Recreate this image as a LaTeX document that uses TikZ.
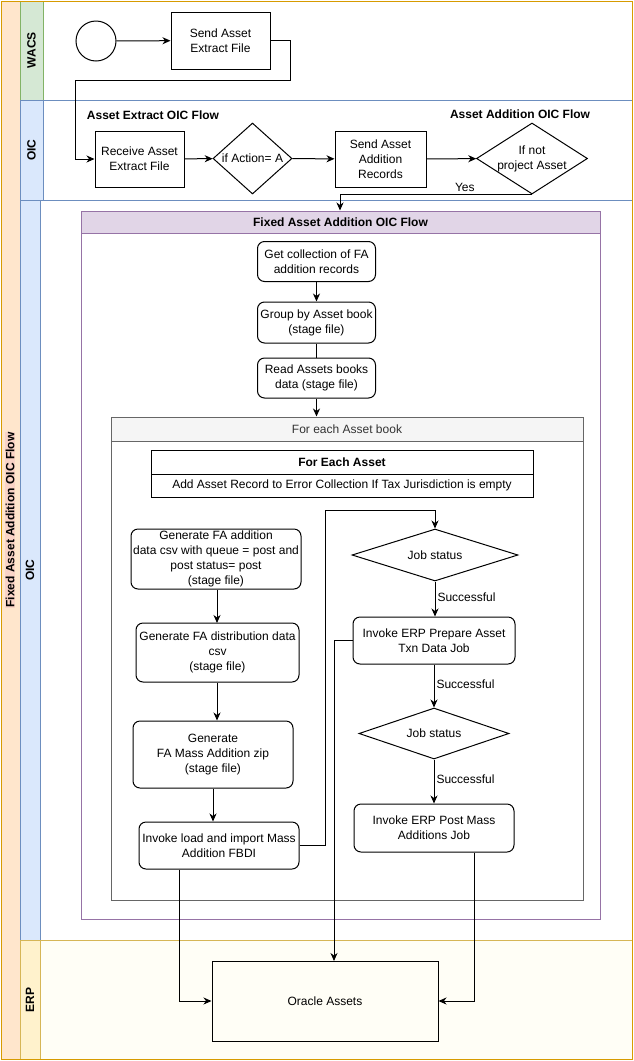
\documentclass[tikz,border=0pt]{standalone}
\usepackage{fontspec}
\setmainfont{Liberation Sans}
\usetikzlibrary{shapes.geometric,arrows.meta,calc}
\definecolor{poolfill}{HTML}{FFE6CC}
\definecolor{pooldraw}{HTML}{D79B00}
\definecolor{pinklbl}{HTML}{F9D3C6}
\definecolor{wacsfill}{HTML}{D5E8D4}
\definecolor{wacsdraw}{HTML}{82B366}
\definecolor{oicfill}{HTML}{DAE8FC}
\definecolor{oicdraw}{HTML}{6C8EBF}
\definecolor{erpfill}{HTML}{FFF2CC}
\definecolor{erpdraw}{HTML}{D6B656}
\definecolor{erpbody}{HTML}{FFFEF6}
\definecolor{purpfill}{HTML}{E1D5E7}
\definecolor{purpdraw}{HTML}{9673A6}
\definecolor{grayfill}{HTML}{F5F5F5}
\definecolor{graydraw}{HTML}{666666}
\definecolor{graytext}{HTML}{333333}
\begin{document}
\begin{tikzpicture}[x=1pt,y=-1pt,
  font=\fontsize{12}{14.8}\selectfont,
  box/.style={draw, line width=1pt, align=center, inner sep=0pt},
  rbox/.style={box, rounded corners=7pt},
  dia/.style={draw, diamond, line width=1pt, inner sep=0pt},
  arr/.style={line width=1pt, -{Stealth[length=8pt,width=7pt,inset=2.5pt]}},
  lanelbl/.style={rotate=90, font=\fontsize{12}{14.8}\selectfont\bfseries},
  ttl/.style={font=\fontsize{12}{14.8}\selectfont\bfseries},
  elbl/.style={inner sep=2pt}
]
\useasboundingbox (0,0) rectangle (634,1061);
% pool
\draw[draw=pooldraw, fill=poolfill, line width=1pt] (1,1) rectangle (632,1059);
\node[lanelbl, fill=pinklbl, inner sep=1pt] (pooltitle) at (10,520) {Fixed Asset Addition OIC Flow};
% lanes
\draw[draw=wacsdraw, fill=white, line width=1pt] (20,1) rectangle (632,100);
\draw[draw=wacsdraw, fill=wacsfill, line width=1pt] (20,1) rectangle (43,100);
\node[lanelbl] (lwacs) at (31.5,50) {WACS};
\draw[draw=oicdraw, fill=white, line width=1pt] (20,100) rectangle (632,200);
\draw[draw=oicdraw, fill=oicfill, line width=1pt] (20,100) rectangle (43,200);
\node[lanelbl] (loic1) at (31.5,150) {OIC};
\draw[draw=oicdraw, fill=white, line width=1pt] (20,200) rectangle (632,940);
\draw[draw=oicdraw, fill=oicfill, line width=1pt] (20,200) rectangle (40,940);
\node[lanelbl] (loic2) at (30,570) {OIC};
\draw[draw=erpdraw, fill=erpbody, line width=1pt] (20,940) rectangle (632,1059);
\draw[draw=erpdraw, fill=erpfill, line width=1pt] (20,940) rectangle (40,1059);
\node[lanelbl] (lerp) at (30,1000) {ERP};
\draw[draw=pooldraw, line width=1pt] (1,1) rectangle (632,1059);

% top lanes
\node[draw, circle, line width=1pt, minimum size=40pt, inner sep=0pt] (start) at (96,41) {};
\node[box, minimum width=99pt, minimum height=57pt] (send) at (220.5,40.5) {Send Asset\\Extract File};
\node[ttl] (t1) at (153,115) {Asset Extract OIC Flow};
\node[ttl] (t2) at (520,114) {Asset Addition OIC Flow};
\node[box, minimum width=89pt, minimum height=56pt] (recv) at (139.5,159) {Receive Asset\\Extract File};
\node[dia, minimum width=79pt, minimum height=71pt, label={center:if Action= A}] (act) at (252.5,158.5) {};
\node[box, minimum width=91pt, minimum height=56pt] (sendadd) at (380.5,159) {Send Asset\\Addition\\Records};
\node[dia, minimum width=111pt, minimum height=71pt, label={[align=center]center:If not\\project Asset}] (notproj) at (532,158.5) {};

\draw[arr] (start) -- (send);
\draw[arr] (send.east) -| (290,80) -| (75,159) -- (recv.west);
\draw[arr] (recv) -- (act);
\draw[arr] (act) -- (sendadd);
\draw[arr] (sendadd) -- (notproj);

% Fixed asset container
\draw[draw=purpdraw, fill=white, line width=1pt] (81,211) rectangle (600,919);
\node[draw=purpdraw, fill=purpfill, line width=1pt, minimum width=519pt, minimum height=22pt, inner sep=0pt, ttl] (fixhdr) at (340.5,222) {Fixed Asset Addition OIC Flow};
\draw[arr] (notproj.south) -| node[pos=0.175, above=-1pt]{Yes} (fixhdr.north -| 340,0);

\node[rbox, minimum width=118pt, minimum height=40pt] (getc) at (316.5,261.5) {Get collection of FA\\addition records};
\node[rbox, minimum width=118pt, minimum height=41pt] (grp) at (316.5,322.5) {Group by Asset book\\(stage file)};
\node[rbox, minimum width=118pt, minimum height=40pt] (rdb) at (316.5,378) {Read Assets books\\data (stage file)};

% For each asset book
\draw[draw=graydraw, fill=white, line width=1pt] (111,417) rectangle (583,900);
\node[draw=graydraw, fill=grayfill, line width=1pt, minimum width=472pt, minimum height=24pt, inner sep=0pt, text=graytext] (bookhdr) at (347,429) {For each Asset book};

\draw[arr] (getc) -- (grp);
\draw[line width=1pt] (grp) -- (rdb);
\draw[arr] (rdb.south) -- (rdb.south |- bookhdr.north);

% For each asset
\node[draw, line width=1pt, minimum width=382pt, minimum height=24pt, inner sep=0pt, outer sep=0pt, ttl] (eahdr) at (342,462) {For Each Asset};
\node[draw, line width=1pt, minimum width=382pt, minimum height=23pt, inner sep=0pt, outer sep=0pt, anchor=north] (earow) at (eahdr.south) {Add Asset Record to Error Collection If Tax Jurisdiction is empty};

\node[rbox, minimum width=170pt, minimum height=60pt] (gen1) at (216,559) {Generate FA addition\\data csv with queue = post and\\post status= post\\(stage file)};
\node[rbox, minimum width=163pt, minimum height=59pt] (gen2) at (217.5,652.5) {Generate FA distribution data\\csv\\(stage file)};
\node[rbox, minimum width=160pt, minimum height=67pt] (gen3) at (213,754.5) {Generate\\FA Mass Addition zip\\(stage file)};
\node[rbox, minimum width=160pt, minimum height=47pt] (load) at (219,845.5) {Invoke load and import Mass\\Addition FBDI};

\node[dia, minimum width=166pt, minimum height=52pt, label={center:Job status}] (job1) at (435,555) {};
\node[rbox, minimum width=162pt, minimum height=47pt] (prep) at (434,640.5) {Invoke ERP Prepare Asset\\Txn Data Job};
\node[dia, minimum width=150pt, minimum height=51pt, label={center:Job status}] (job2) at (434,733.5) {};
\node[rbox, minimum width=160pt, minimum height=48pt] (post) at (434,828) {Invoke ERP Post Mass\\Additions Job};

\draw[arr] (gen1.south -| 217,0) -- (217,623);
\draw[arr] (gen2.south -| 217,0) -- (gen3.north -| 217,0);
\draw[arr] (gen3) -- (load.north -| gen3.south);
\draw[arr] (load.east) -| (325,510) -| (job1.north);
\draw[arr] (job1) -- node[right, elbl, pos=0.45]{Successful} (prep.north -| job1.south);
\draw[arr] (prep.south) -- node[right, elbl, pos=0.45]{Successful} (job2.north);
\draw[arr] (job2) -- node[right, elbl, pos=0.45]{Successful} (post);

% ERP
\node[box, minimum width=226pt, minimum height=80pt] (oracle) at (325,1001) {Oracle Assets};
\coordinate (orin) at (334,961);
\draw[arr] (prep.west) -| (orin);
\draw[arr] ([xshift=-40pt]load.south) |- (oracle.west);
\draw[arr] ([xshift=40pt]post.south) |- (oracle.east);
\end{tikzpicture}
\end{document}
